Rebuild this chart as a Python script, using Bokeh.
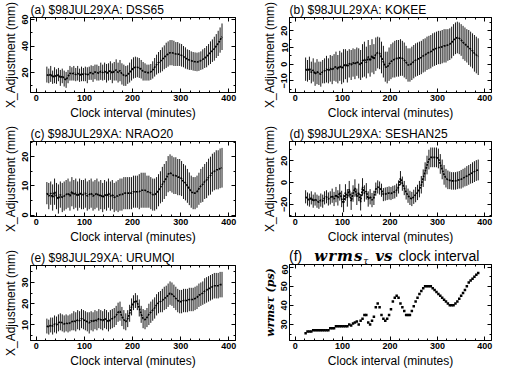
from bokeh.plotting import figure
from bokeh.layouts import column, row
from bokeh.models import LinearAxis, Range1d, FixedTicker, ColumnDataSource, Div
from bokeh.embed import file_html
from bokeh.resources import INLINE

# ---------------- data ----------------
clock = [22, 26, 30, 34, 38, 42, 46, 50, 54, 58,
         62, 66, 70, 74, 78, 82, 86, 90, 94, 98,
         102, 106, 110, 114, 118, 122, 126, 130, 134, 138,
         142, 146, 150, 154, 158, 162, 166, 170, 174, 178,
         182, 186, 190, 194, 198, 202, 206, 210, 214, 218,
         222, 226, 230, 234, 238, 242, 246, 250, 254, 258,
         262, 266, 270, 274, 278, 282, 286, 290, 294, 298,
         302, 306, 310, 314, 318, 322, 326, 330, 334, 338,
         342, 346, 350, 354, 358, 362, 366, 370, 374, 378, 382, 386]

dss65 = [18.5, 17.5, 19, 16.5, 18, 17, 18.5, 16, 17.5, 15.5,
         14.5, 17, 19.5, 19, 19.5, 18.5, 19.5, 18, 19, 18.5,
         19, 18, 19.5, 20, 19, 20.5, 20, 19.5, 21, 20,
         21, 19.5, 20.5, 21.5, 19.5, 21, 22, 20, 21.5, 19,
         18, 17.5, 18.5, 20, 22, 23.5, 24, 24, 23.5, 22.5,
         21, 20.5, 20, 20, 20.5, 22, 24, 26, 27.5, 28.5,
         30, 31.5, 33, 34, 35, 35, 34.5, 34, 34, 33.5,
         33, 32, 31, 30, 29.5, 29, 28.5, 28.2, 28, 28.3,
         29, 30, 31, 32, 33.5, 35, 36.5, 38, 40, 42, 44.5, 47]
dss65_err = [6, 5.5, 6, 5, 6, 5.5, 5, 6, 5.5, 6,
             6, 5, 5.5, 5, 5.5, 5, 5.5, 5, 5.5, 5,
             5.5, 6, 5, 5.5, 6, 5.5, 6, 5.5, 6.5, 6,
             6.5, 7, 6.5, 7, 7.5, 7, 8, 7.5, 8, 8,
             8, 7.5, 7, 7.5, 8, 8, 8, 7.5, 7.5, 7,
             7, 6.5, 6, 6, 6, 6.5, 7, 7.5, 8, 8.5,
             9, 9, 9.5, 9.5, 9.5, 9.5, 9.5, 9, 9, 8.5,
             8.5, 8, 8, 7.5, 7.5, 7, 7, 7, 7, 7,
             7, 7.5, 7.5, 8, 8, 8.5, 8.5, 9, 9, 9.5, 9.5, 10]

kokee = [-3, -4, -2.5, -5, -3.5, -6, -4.5, -5.5, -6, -4.5,
         -4, -3, -4, -2.5, -3.5, -2, -1.5, -3, -1, -2.5,
         -1, 0, -1.5, 0.5, -0.5, 1, 0, 1.5, 0.5, -0.5,
         2, 3, 1, 4.5, 2, 5, 3, 6, 7, 6.5,
         4, 1.5, -1.5, -2, 0, 1.5, 2.5, 3, 3.5, 3.5,
         4, 3.5, 2.5, 1, -0.5, -0.5, 0.5, 1.5, 2.5, 3,
         3.5, 4, 5, 5.5, 6.5, 7, 7.5, 8.5, 9, 9.5,
         10, 10, 10.5, 11, 11, 11.5, 12, 13, 14.5, 15.5,
         16, 15.5, 14.5, 13, 12, 11, 10, 9, 8, 6.5, 5.5, 4.5]
kokee_err = [7, 6.5, 7, 6.5, 7, 7, 7.5, 7, 7.5, 7,
             7.5, 8, 7.5, 8, 8.5, 8, 9, 8.5, 9, 9.5,
             10, 9, 9.5, 8.5, 9, 8.5, 9, 8.5, 9, 9,
             10, 10.5, 9.5, 10, 9.5, 10, 9, 10, 9.5, 9.5,
             9.5, 9.5, 9, 9.5, 10, 10.5, 10.5, 11, 11, 11,
             11, 10.5, 10.5, 10, 10, 10, 10, 10, 10, 10,
             10, 10, 10, 10, 10, 10, 10, 10, 10, 10,
             10, 10, 10, 10, 10, 9.5, 9.5, 9.5, 9.5, 9.5,
             9.5, 9.5, 9.5, 10, 10, 10, 10.5, 10.5, 10.5, 11, 11, 11]

nrao20 = [7.5, 6.5, 7.5, 6, 8, 6.5, 5.5, 7, 6, 6.5,
          7, 7.5, 6.5, 8, 7, 7.5, 6.5, 7.5, 7, 7,
          7.5, 6.5, 7, 7.5, 6.5, 7, 7.5, 6.5, 7, 6,
          7, 6.5, 7.5, 6.5, 7, 6, 6.5, 6.5, 7, 7,
          7.5, 7.5, 7.5, 7.5, 7.5, 8, 8, 8, 8, 8.5,
          8.5, 8.5, 8, 8, 7.5, 7, 7, 7.5, 8.5, 9.5,
          10.5, 11.5, 12.5, 14, 14.5, 14, 13.5, 13.5, 13, 13,
          12.5, 11.5, 11, 10, 9, 8, 7.5, 7.5, 8, 9,
          10, 10.5, 11.5, 12, 13, 13.5, 14.5, 15, 15.5, 15.5, 16, 16.2]
nrao20_err = [3.8, 4.5, 4, 4.5, 4.5, 4.5, 5, 4.5, 5, 5,
              5, 5, 5, 5, 5, 5, 5, 5, 5, 5,
              5, 5, 5, 5, 5, 5, 5, 5, 5, 5,
              5, 5, 5, 5, 5, 5, 5, 5.5, 5.5, 5.5,
              5.5, 5.5, 5.5, 5.5, 5.5, 5.5, 5.5, 5.5, 6, 6,
              6, 6, 5.5, 5.5, 5.5, 5.5, 5.5, 5.5, 5.5, 5.5,
              6, 6, 6, 6.2, 6.3, 6.3, 6.3, 6.3, 6.2, 6.2,
              6, 6, 6, 5.8, 5.6, 5.5, 5.5, 5.5, 5.5, 5.5,
              5.8, 6, 6, 6.2, 6.3, 6.5, 6.5, 6.5, 6.7, 6.7, 6.8, 6.8]

seshan25 = [-13, -15, -16, -14, -17, -15, -17, -18, -16, -17,
            -14, -13, -15, -14, -12, -15, -11, -14, -9, -15,
            -19, -9, -14, -6, -17, -10, -5, -13, -9, -18,
            -4, -10, -8, -15, -13, -16, -14, -6, -4, -5,
            -7, -11, -10.5, -10, -9.5, -10, -9, -8.5, -7, -4,
            4, -1, -5, -9, -12, -14, -15, -13, -11, -9,
            -6, -2, 4, 10, 16, 21, 23, 23, 23, 23,
            22, 17, 12, 7, 4, 2.5, 2, 1.5, 1.5, 1.5,
            2, 2.5, 3, 4, 5, 6, 7, 8, 9, 10, 11, 11.5]
seshan25_err = [6, 6, 6, 6, 6, 6, 6, 6, 6, 6,
                6, 6, 6, 6, 6.5, 6.5, 7, 7, 7.5, 7.5,
                8, 7.5, 8, 7.5, 8, 7.5, 8, 7.5, 8, 7.5,
                8, 7.5, 7.5, 7, 7, 6.5, 6.5, 6, 6, 6,
                6, 6, 6, 6, 6, 6, 6, 6, 6, 6,
                6.5, 6.5, 6.5, 6.5, 6.5, 6.5, 6.5, 6.5, 7, 7,
                7.5, 8, 8, 8.5, 8.5, 9, 9, 9, 9, 9,
                9, 9, 9, 9, 8.5, 8.5, 8, 8, 8, 8,
                8, 8, 8.5, 8.5, 8.5, 9, 9, 9, 9.5, 9.5, 9.5, 9.5]

urumqi = [9.5, 9, 10, 9.5, 10.5, 10, 11, 11.5, 11, 10.5,
          11, 10.5, 11, 11.5, 12, 11.5, 12.5, 12, 13, 12.5,
          12, 11.5, 11, 12, 11.5, 12.5, 12, 13, 12.5, 12,
          13, 12.5, 11.5, 12.5, 13, 13.5, 14.5, 16, 16.5, 14,
          12.5, 11.5, 13, 15.5, 18.5, 20.5, 21.5, 20.5, 18, 15,
          13, 12.5, 13.5, 15, 16, 17, 18, 19.5, 20.5, 21,
          21.5, 22.5, 23, 24, 25, 24.5, 23.5, 22.5, 21.5, 21,
          21, 21.5, 21.5, 21.5, 22, 22, 22, 22.5, 23, 24,
          24.5, 25, 26, 26.5, 27, 27.5, 28, 28.5, 28.5, 28.5, 29, 29]
urumqi_err = [3.5, 3.5, 3.5, 4, 4, 4, 4, 4, 4, 4,
              4, 4, 4, 4, 4.5, 4.5, 4.5, 4.5, 4.5, 4.5,
              4.5, 4.5, 5, 4.5, 4.5, 4.5, 4.5, 4.5, 4.5, 4.5,
              4.5, 4.5, 4.5, 4.5, 4.5, 4.5, 4.5, 4.5, 4.5, 4.5,
              4.5, 4, 4, 4, 4, 3.5, 3.5, 3.5, 4, 4,
              4.5, 4.5, 4.5, 5, 5, 5, 5, 5, 5, 5,
              5.5, 5.5, 5.5, 5.5, 5.5, 5.5, 5.5, 5.5, 5.5, 5.5,
              5.5, 5.5, 5.5, 5.5, 5.5, 5.5, 5.5, 5.5, 5.5, 5.5,
              5.5, 5.5, 6, 6, 6, 6, 6, 6, 6, 6, 6, 6]

wrms = [25.4, 26.3, 26.3, 26.3, 27, 27, 27, 27, 27, 27,
        27, 27, 27, 28, 28, 28, 29, 29, 29, 29,
        29, 29, 29, 30, 29.5, 30.5, 31, 31.5, 30, 32,
        33, 35, 35, 31, 30, 32, 34, 39, 41, 39,
        35, 33, 32, 33, 35, 38, 42, 44, 45, 44,
        41, 39, 37, 35, 35, 35, 37, 39.5, 42, 44,
        46, 47.5, 49, 50, 50, 50, 50, 49, 48, 47,
        46, 45, 44, 43, 42, 41, 40, 40, 40, 41,
        42, 43.5, 45, 46.5, 48, 50, 52, 53, 54, 55, 56, 57]

x_ticks = [0, 100, 200, 300, 400]
titles = ["(a) $98JUL29XA: DSS65", "(b) $98JUL29XA: KOKEE",
          "(c) $98JUL29XA: NRAO20", "(d) $98JUL29XA: SESHAN25",
          "(e) $98JUL29XA: URUMQI"]
y_axis_label = "X_Adjustment (mm)"
x_axis_label = "Clock interval (minutes)"
f_y_label = "wrmsτ (ps)"

FONT = "Liberation Sans"
SERIF = "DejaVu Serif"
H = 124
TOP, BOT = 16, 32


def tick_style(ax):
    ax.major_tick_in = 4
    ax.major_tick_out = 0
    ax.minor_tick_in = 2
    ax.minor_tick_out = 0
    ax.axis_line_color = "black"
    ax.major_tick_line_color = "black"
    ax.minor_tick_line_color = "black"


def style_axes(p, yticks, yminor):
    xt = FixedTicker(ticks=x_ticks, minor_ticks=list(range(-20, 440, 20)))
    yt = FixedTicker(ticks=yticks, minor_ticks=yminor)
    bx = p.below[0]
    ly = p.left[0]
    bx.ticker = xt
    ly.ticker = yt
    for ax in (bx, ly):
        tick_style(ax)
        ax.major_label_text_font = FONT
        ax.major_label_text_font_style = "bold"
        ax.major_label_text_font_size = "9px"
        ax.major_label_text_color = "black"
        ax.major_label_standoff = 2
        ax.axis_label_text_font = FONT
        ax.axis_label_text_font_style = "normal"
        ax.axis_label_text_font_size = "12px"
        ax.axis_label_text_color = "black"
        ax.axis_label_standoff = 2
    ly.major_label_orientation = "vertical"
    right = LinearAxis(ticker=yt,
                       major_label_overrides={t: "" for t in yticks},
                       major_label_standoff=0)
    top = LinearAxis(ticker=xt,
                     major_label_overrides={t: "" for t in x_ticks},
                     major_label_standoff=0)
    tick_style(right)
    tick_style(top)
    p.add_layout(right, "right")
    p.add_layout(top, "above")
    return bx, ly


def make_fig(width, height, bl, br, top, yr, title=None):
    p = figure(width=width, height=height, x_range=Range1d(-12, 414),
               y_range=Range1d(*yr), output_backend="svg",
               toolbar_location=None, min_border_left=bl,
               min_border_right=br, min_border_top=top,
               min_border_bottom=BOT, title=title)
    p.grid.visible = False
    p.outline_line_color = "black"
    p.background_fill_color = "white"
    p.border_fill_color = "white"
    if title is not None:
        p.title.text_font = FONT
        p.title.text_font_size = "12px"
        p.title.text_font_style = "normal"
        p.title.text_color = "black"
        p.title.standoff = 1
        p.title.offset = 0
    return p


def err_panel(width, bl, br, title, ys, errs, yr, yticks, yminor):
    p = make_fig(width, H, bl, br, TOP, yr, title)
    src = ColumnDataSource(dict(x=clock, y=ys,
                                lo=[a - b for a, b in zip(ys, errs)],
                                hi=[a + b for a, b in zip(ys, errs)]))
    p.segment(x0="x", y0="lo", x1="x", y1="hi", source=src,
              line_color="#1a1a1a", line_width=1)
    p.line(x="x", y="y", source=src, line_color="black", line_width=1.6,
           line_dash="2 1")
    bx, ly = style_axes(p, yticks, yminor)
    bx.axis_label = x_axis_label
    ly.axis_label = y_axis_label
    return p


LW, RW = 247, 248
LBL, LBR = 26, 12
RBL, RBR = 42, 4

pa = err_panel(LW, LBL, LBR, titles[0], dss65, dss65_err, (5, 61.5),
               [20, 40, 60], list(range(0, 70, 10)))
pb = err_panel(RW, RBL, RBR, titles[1], kokee, kokee_err, (-17, 28),
               [-10, 0, 10, 20], list(range(-20, 35, 5)))
pc = err_panel(LW, LBL, LBR, titles[2], nrao20, nrao20_err, (-0.5, 25.2),
               [0, 10, 20], list(range(0, 30, 5)))
pd = err_panel(RW, RBL, RBR, titles[3], seshan25, seshan25_err, (-31, 37.5),
               [-20, 0, 20], list(range(-40, 50, 10)))
pe = err_panel(LW, LBL, LBR, titles[4], urumqi, urumqi_err, (2.7, 38),
               [10, 20, 30], list(range(0, 45, 5)))

# panel f: title as HTML (mixed styles), plot below
f_title = Div(
    text=('<span style="font-family:\'Liberation Sans\';font-size:14px">(f)</span>'
          '<span style="display:inline-block;width:12px"></span>'
          '<span style="font-family:\'DejaVu Serif\';font-size:15px;'
          'font-weight:bold;font-style:italic;letter-spacing:1px">wrms</span>'
          '<sub style="font-family:\'DejaVu Serif\';font-size:9px;'
          'font-style:italic">τ</sub>'
          '<span style="display:inline-block;width:7px"></span>'
          '<span style="font-family:\'DejaVu Serif\';font-size:15px;'
          'font-weight:bold;font-style:italic">vs</span>'
          '<span style="display:inline-block;width:6px"></span>'
          '<span style="font-family:\'Liberation Sans\';font-size:14px">'
          'clock interval</span>'),
    width=RW - RBL, height=16, margin=(0, 0, 0, RBL),
    styles={"line-height": "16px", "color": "black", "white-space": "nowrap"})

pf = make_fig(RW, H - 16, RBL, RBR, 0, (21.6, 61.4))
pf.scatter(x=clock, y=wrms, marker="square", size=2.5,
           fill_color="black", line_color="black", line_width=0)
fbx, fly = style_axes(pf, [30, 40, 50, 60], list(range(20, 70, 5)))
fbx.axis_label = x_axis_label
fly.axis_label = f_y_label
fly.axis_label_text_font = SERIF
fly.axis_label_text_font_style = "bold italic"
fly.axis_label_text_font_size = "11px"

layout = column(row(pa, pb), row(pc, pd), row(pe, column(f_title, pf)))
open("out.html", "w").write(file_html(layout, INLINE))
